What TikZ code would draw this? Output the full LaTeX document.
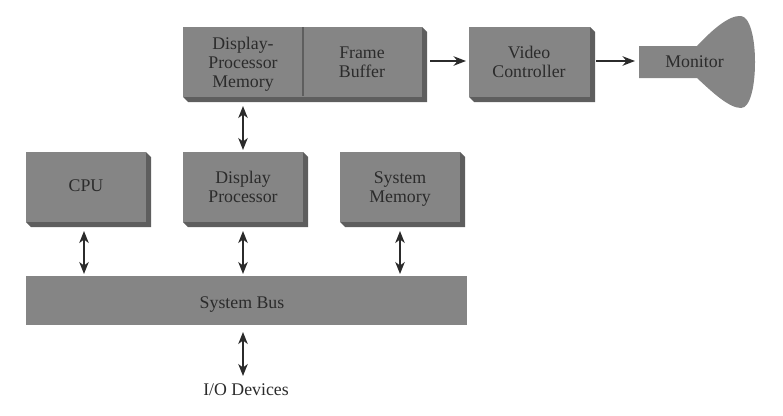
\documentclass[tikz,border=0pt]{standalone}
\usepackage{fontspec}
\setmainfont{Liberation Serif}
\usetikzlibrary{arrows.meta}
\definecolor{face}{HTML}{858585}
\definecolor{side}{HTML}{5E5E5E}
\definecolor{ink}{HTML}{2B2B2B}
\tikzset{
  x=1pt,y=-1pt,
  lbl/.style={font=\fontsize{17.8}{18.8}\selectfont,text=ink,align=center,inner sep=0pt},
  facebox/.style={fill=face,draw=none,inner sep=0pt,minimum width=#1,minimum height=70pt,anchor=north west},
  link/.style={draw=ink,line width=1.5pt,{Stealth[length=12pt,width=9.5pt,inset=3.5pt]}-{Stealth[length=12pt,width=9.5pt,inset=3.5pt]}},
  oneway/.style={draw=ink,line width=1.5pt,-{Stealth[length=12.5pt,width=9.5pt,inset=4pt]}}
}
\newcommand{\shadowbox}[5]{% x y w h name
  \fill[side] (#1,#2+#4) -- (#1+5,#2+#4+5) -- (#1+#3+5,#2+#4+5) -- (#1+#3+5,#2+5) -- (#1+#3,#2) -- (#1+#3,#2+#4) -- cycle;
  \node[facebox=#3 pt,minimum height=#4 pt] (#5) at (#1,#2) {};
}
\begin{document}
\begin{tikzpicture}
\useasboundingbox (0,0) rectangle (783,415);
\shadowbox{183}{27}{239}{70}{mem}
\shadowbox{469}{27}{121}{70}{vc}
\shadowbox{26}{152}{120}{70}{cpu}
\shadowbox{183}{152}{120}{70}{dp}
\shadowbox{340}{152}{120}{70}{sm}
\node[fill=face,inner sep=0pt,minimum width=441pt,minimum height=49pt,anchor=north west] (bus) at (26,276) {};
\draw[side,line width=1.3pt] (303,27) -- (303,96);
\fill[face] (639,46) -- (697,46)
  .. controls (712,30) and (729,15) .. (741,16)
  .. controls (750,17) and (755,38) .. (755,62)
  .. controls (755,87) and (750,108) .. (741,108)
  .. controls (729,108) and (712,92) .. (697,78)
  -- (639,78) -- cycle;
\node[lbl] at (243,64.5) {\strut Display-\\\strut Processor\\\strut Memory};
\node[lbl] at (362,64) {\strut Frame\\\strut Buffer};
\node[lbl] at (529,64) {\strut Video\\\strut Controller};
\node[lbl] (mon) at (694.5,64) {\strut Monitor};
\node[lbl] at (86,188) {\strut CPU};
\node[lbl] at (243,189) {\strut Display\\\strut Processor};
\node[lbl] at (400,189) {\strut System\\\strut Memory};
\node[lbl] at (242,305) {\strut System Bus};
\node[lbl] (io) at (246,392) {\strut I/O Devices};
\coordinate (a1) at (243,106); \coordinate (a2) at (243,150);
\coordinate (b1) at (84,231); \coordinate (b2) at (84,274);
\coordinate (c1) at (243,231); \coordinate (c2) at (243,274);
\coordinate (d1) at (400,231); \coordinate (d2) at (400,274);
\coordinate (e1) at (243,332); \coordinate (e2) at (243,376);
\coordinate (f1) at (430,61); \coordinate (f2) at (466,61);
\coordinate (g1) at (596,61); \coordinate (g2) at (635,61);
\draw[link] (a1) -- (a2);
\draw[link] (b1) -- (b2);
\draw[link] (c1) -- (c2);
\draw[link] (d1) -- (d2);
\draw[link] (e1) -- (e2);
\draw[oneway] (f1) -- (f2);
\draw[oneway] (g1) -- (g2);
\end{tikzpicture}
\end{document}
